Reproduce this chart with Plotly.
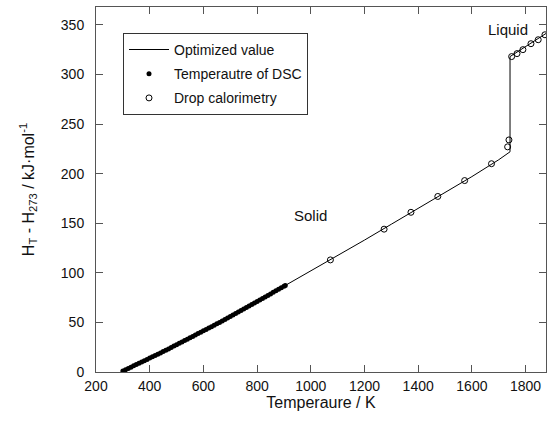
import plotly.graph_objects as go

# Optimized enthalpy curve (solid branch, melting step, liquid branch)
opt_T = [298, 400, 500, 600, 700, 800, 900, 1000, 1100, 1200, 1300, 1400,
         1500, 1600, 1700, 1742, 1742, 1880]
opt_H = [1.0, 14.0, 27.5, 41.5, 56.0, 71.0, 86.5, 102.0, 117.0, 133.0, 149.0,
         165.0, 181.0, 197.0, 214.0, 222.0, 318.0, 342.0]

# DSC-derived enthalpy increments
dsc_T = [300, 310, 320, 330, 340, 350, 360, 370, 380, 390, 400,
         410, 420, 430, 440, 450, 460, 470, 480, 490, 500,
         510, 520, 530, 540, 550, 560, 570, 580, 590, 600,
         610, 620, 630, 640, 650, 660, 670, 680, 690, 700,
         710, 720, 730, 740, 750, 760, 770, 780, 790, 800,
         810, 820, 830, 840, 850, 860, 870, 880, 890, 900, 905]
dsc_H = [1.0, 2.3, 3.6, 4.9, 6.2, 7.5, 8.8, 10.1, 11.4, 12.7, 14.0,
         15.3, 16.6, 17.9, 19.2, 20.6, 21.9, 23.3, 24.7, 26.1, 27.5,
         28.9, 30.3, 31.7, 33.1, 34.5, 35.9, 37.3, 38.7, 40.1, 41.5,
         42.9, 44.3, 45.7, 47.1, 48.6, 50.0, 51.5, 53.0, 54.5, 56.0,
         57.5, 59.0, 60.5, 62.0, 63.5, 65.0, 66.5, 68.0, 69.5, 71.0,
         72.5, 74.1, 75.6, 77.2, 78.7, 80.3, 81.8, 83.4, 84.9, 86.5, 87.3]

# Drop calorimetry measurements
drop_T = [1073, 1273, 1373, 1473, 1573, 1673, 1733, 1738,
          1748, 1768, 1790, 1820, 1847, 1872]
drop_H = [113, 144, 161, 177, 193, 210, 227, 234,
          318, 321, 325, 331, 335, 340]

x_ticks = [200, 400, 600, 800, 1000, 1200, 1400, 1600, 1800]
y_ticks = [0, 50, 100, 150, 200, 250, 300, 350]

FONT = "Liberation Sans, Arial, Helvetica, sans-serif"
INK = "#111111"
AXIS = "#555555"

fig = go.Figure()

fig.add_trace(go.Scatter(
    x=opt_T, y=opt_H, mode="lines", name="Optimized value",
    line=dict(color="black", width=1), legendgroup="a",
))
fig.add_trace(go.Scatter(
    x=dsc_T, y=dsc_H, mode="markers", name="Temperautre of DSC",
    marker=dict(color="black", size=5, line=dict(width=0)), legendgroup="b",
))
fig.add_trace(go.Scatter(
    x=drop_T, y=drop_H, mode="markers", name="Drop calorimetry",
    marker=dict(symbol="circle-open", color="black", size=6,
                line=dict(color="black", width=1)), legendgroup="c",
))

fig.add_annotation(x=1734, y=345, text="Liquid", showarrow=False,
                   font=dict(family=FONT, size=15, color=INK))
fig.add_annotation(x=999, y=158, text="Solid", showarrow=False,
                   font=dict(family=FONT, size=15, color=INK))

axis_common = dict(
    showline=True, linecolor=AXIS, linewidth=1, mirror="ticks",
    ticks="inside", ticklen=7, tickwidth=1, tickcolor=AXIS,
    showgrid=False, zeroline=False,
    tickfont=dict(family=FONT, size=14, color=INK),
)

fig.update_xaxes(
    range=[200, 1876], tickvals=x_ticks, ticklabelstandoff=1,
    title=dict(text="Temperaure / K", font=dict(family=FONT, size=16, color=INK),
               standoff=4),
    **axis_common,
)
fig.update_yaxes(
    range=[0, 368], tickvals=y_ticks, ticklabelstandoff=8,
    title=dict(text="H<sub>T</sub> - H<sub>273</sub> / kJ·mol<sup>-1</sup>",
               font=dict(family=FONT, size=16, color=INK), standoff=22),
    **axis_common,
)

fig.update_layout(
    width=552, height=436,
    margin=dict(l=96, r=6, t=7, b=64),
    paper_bgcolor="white", plot_bgcolor="white",
    font=dict(family=FONT, color=INK),
    legend=dict(
        x=0.06, y=0.929, xanchor="left", yanchor="top",
        bgcolor="white", bordercolor="#333333", borderwidth=1,
        font=dict(family=FONT, size=14, color=INK),
        traceorder="grouped", tracegroupgap=3,
        entrywidth=145, itemwidth=40,
    ),
)

fig.write_html("out.html")
